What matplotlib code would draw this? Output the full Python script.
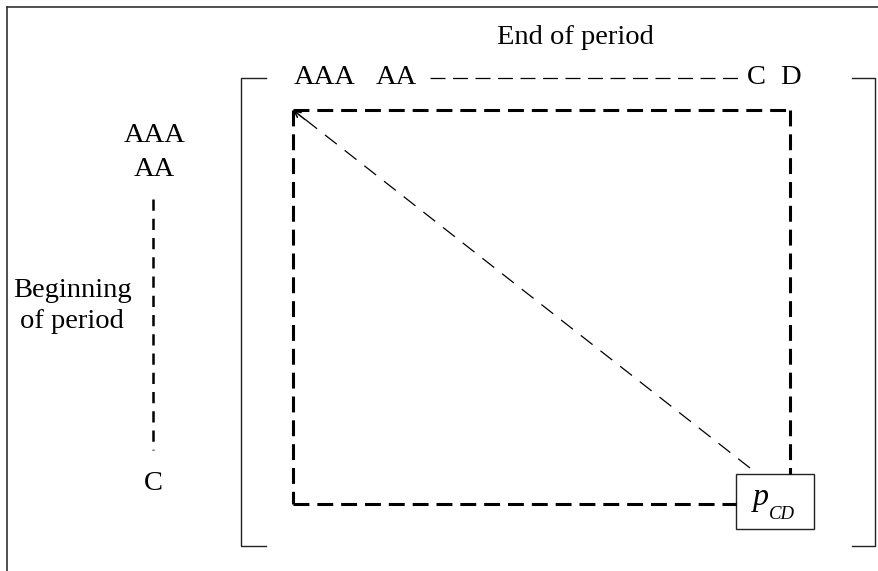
import matplotlib
matplotlib.use("Agg")
import matplotlib.pyplot as plt
from matplotlib.patches import Rectangle

# ── Labels ────────────────────────────────────────────────────────
end_title = "End of period"
begin_title = "Beginning\nof period"
top_ratings = ["AAA", "AA", "C", "D"]
left_ratings = ["AAA", "AA", "C"]
cell_main, cell_sub = "p", "CD"

# ── Layout (pixel coords, origin top-left) ────────────────────────
W, H = 879, 571
FS = 20.5
SERIF = ["Liberation Serif", "DejaVu Serif"]

fig = plt.figure(figsize=(W / 100, H / 100), dpi=100)
ax = fig.add_axes([0, 0, 1, 1])
ax.set_xlim(0, W)
ax.set_ylim(H, 0)
ax.axis("off")

txt = dict(family=SERIF, fontsize=FS, ha="center", va="center", color="black")

# outer frame (only top/left visible)
ax.plot([7, W + 5], [7, 7], color="#333333", lw=1.2)
ax.plot([7, 7], [7, H + 5], color="#333333", lw=1.2)

# titles
ax.text(575, 38, end_title, **txt)
ax.text(72, 306, begin_title, linespacing=1.35, **txt)

# matrix brackets
bk = dict(color="#222222", lw=1.0)
ax.plot([266, 241, 241, 266], [78, 78, 546, 546], **bk)
ax.plot([852, 875, 875, 852], [78, 78, 546, 546], **bk)

# column ratings along the top
ax.text(325, 77, top_ratings[0], **txt)
ax.text(396, 77, top_ratings[1], **txt)
ax.text(756, 77, top_ratings[2], **txt)
ax.text(790, 77, top_ratings[3], **txt)
ax.plot([430, 738], [78, 78], color="black", lw=0.9, linestyle=(0, (12, 6)))

# row ratings down the side
ax.text(155, 135, left_ratings[0], **txt)
ax.text(154, 170, left_ratings[1], **txt)
ax.text(153, 484, left_ratings[2], **txt)
ax.plot([153, 153], [199, 450], color="black", lw=1.8, linestyle=(0, (4.5, 3.2)))

# thick dashed square
sq = dict(color="black", lw=2.2, linestyle=(0, (5.2, 2.6)), solid_capstyle="butt")
ax.plot([293, 293], [110, 504], **sq)
ax.plot([293, 790], [110, 110], **sq)
ax.plot([790, 790], [110, 474], **sq)
ax.plot([293, 736], [504, 504], **sq)

# thin dashed diagonal, open arrowhead at the top-left
ax.plot([750, 297], [468, 113], color="black", lw=0.9, linestyle=(0, (12, 8)))
ax.annotate("", xy=(293, 110), xytext=(305, 119.5),
            arrowprops=dict(arrowstyle="->,head_length=0.45,head_width=0.22",
                            color="black", lw=1.1, shrinkA=0, shrinkB=0))

# p_CD cell
ax.add_patch(Rectangle((736, 474), 78, 55, facecolor="white", edgecolor="#222222", lw=1.0))
ax.text(761, 505, cell_main, family=SERIF, style="italic", fontsize=23,
        ha="center", va="baseline")
ax.text(782, 519, cell_sub, family=SERIF, style="italic", fontsize=13.5,
        ha="center", va="baseline")

fig.savefig("out.png", dpi=100)
